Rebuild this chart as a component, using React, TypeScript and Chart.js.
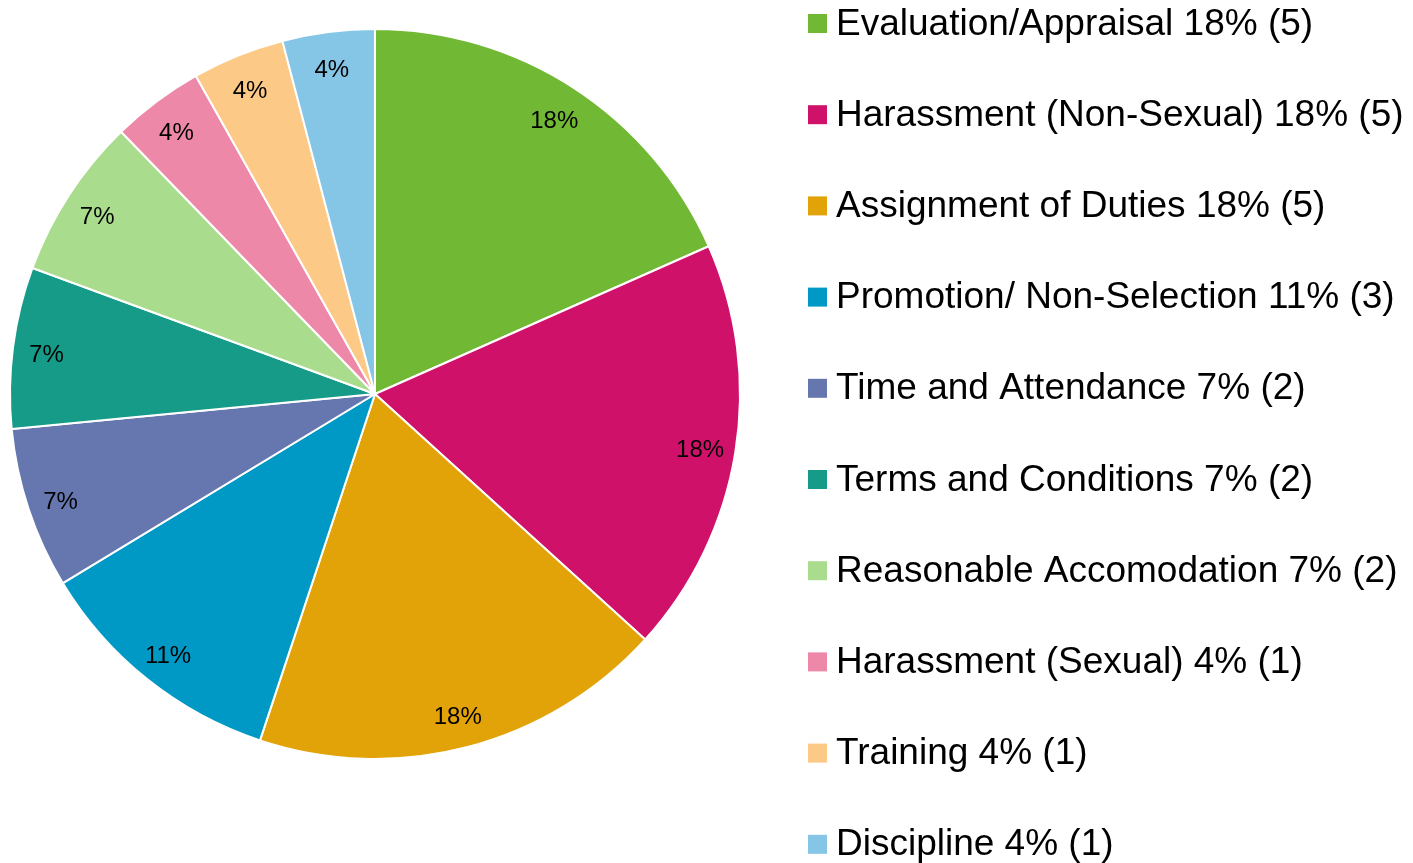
import React, { useEffect, useRef } from "react";
import { Chart, registerables } from "chart.js";

Chart.register(...registerables);

const categories = [
  "Evaluation/Appraisal",
  "Harassment (Non-Sexual)",
  "Assignment of Duties",
  "Promotion/ Non-Selection",
  "Time and Attendance",
  "Terms and Conditions",
  "Reasonable Accomodation",
  "Harassment (Sexual)",
  "Training",
  "Discipline",
];
const counts = [5, 5, 5, 3, 2, 2, 2, 1, 1, 1];
const percents = [18, 18, 18, 11, 7, 7, 7, 4, 4, 4];
const colors = [
  "#71B934",
  "#D0116A",
  "#E2A308",
  "#0099C5",
  "#6677B0",
  "#169B88",
  "#A9DD8D",
  "#EE88A8",
  "#FDC987",
  "#85C5E5",
];

const FONT = "'Liberation Sans', Arial, sans-serif";

const labelPlugin = {
  id: "sliceLabels",
  afterDatasetsDraw(chart: any) {
    const ctx = chart.ctx;
    const meta = chart.getDatasetMeta(0);
    ctx.save();
    ctx.fillStyle = "#000";
    ctx.font = `24px ${FONT}`;
    ctx.textAlign = "center";
    ctx.textBaseline = "middle";
    meta.data.forEach((arc: any, i: number) => {
      const { x, y, startAngle, endAngle, outerRadius } = arc.getProps(
        ["x", "y", "startAngle", "endAngle", "outerRadius"],
        true
      );
      const mid = (startAngle + endAngle) / 2;
      const r = outerRadius * 0.905;
      ctx.fillText(`${percents[i]}%`, x + Math.cos(mid) * r - 1, y + Math.sin(mid) * r + 4);
    });
    ctx.restore();
  },
};

const legendPlugin = {
  id: "customLegend",
  afterDraw(chart: any) {
    const ctx = chart.ctx;
    ctx.save();
    ctx.font = `37px ${FONT}`;
    ctx.textAlign = "left";
    ctx.textBaseline = "alphabetic";
    categories.forEach((c, i) => {
      const base = 34.5 + i * 91.2;
      ctx.fillStyle = colors[i];
      ctx.fillRect(808, base - 20.5, 19, 19);
      ctx.fillStyle = "#000";
      ctx.fillText(`${c} ${percents[i]}% (${counts[i]})`, 836, base);
    });
    ctx.restore();
  },
};

export default function App() {
  const ref = useRef<HTMLCanvasElement>(null);
  useEffect(() => {
    if (!ref.current) return;
    const chart = new Chart(ref.current, {
      type: "pie",
      data: {
        labels: categories,
        datasets: [
          {
            data: percents,
            backgroundColor: colors,
            borderColor: "#ffffff",
            borderWidth: 2,
          },
        ],
      },
      options: {
        animation: false,
        responsive: false,
        layout: { padding: { left: 9, right: 672, top: 28, bottom: 103 } },
        plugins: {
          legend: { display: false },
          tooltip: { enabled: false },
        },
      },
      plugins: [labelPlugin, legendPlugin],
    });
    return () => chart.destroy();
  }, []);
  return (
    <div style={{ position: "absolute", left: 0, top: 0, width: 1413, height: 863, background: "#fff" }}>
      <canvas ref={ref} width={1413} height={863} style={{ width: 1413, height: 863 }} />
    </div>
  );
}
